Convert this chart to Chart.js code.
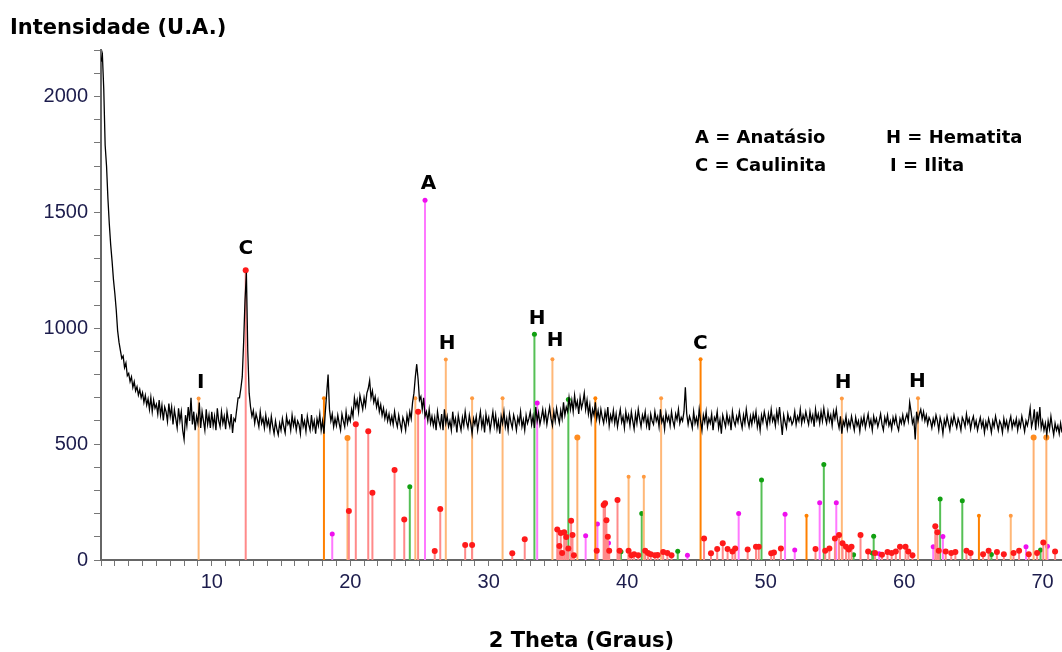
<!DOCTYPE html>
<html>
<head>
<meta charset="utf-8">
<script src="https://cdn.jsdelivr.net/npm/chart.js@4.4.0/dist/chart.umd.min.js"></script>
<style>
  html, body { margin: 0; padding: 0; background: #fff; }
  #wrap { width: 1062px; height: 652px; position: relative; }
</style>
</head>
<body>
<div id="wrap"><canvas id="xrd" width="1062" height="652"></canvas></div>
<script>
// measured pattern, read every 0.1 degree starting at 2.0
const thetaStart = 2.0;
const thetaStep = 0.1;
const intensity = [
  2150, 2180, 2030, 1790, 1700, 1560, 1450, 1360, 1290, 1210,
  1150, 1080, 990, 940, 905, 870, 880, 830, 850, 795,
  805, 770, 790, 745, 770, 730, 748, 712, 735, 700,
  722, 680, 710, 668, 695, 650, 702, 640, 690, 655,
  672, 630, 690, 625, 668, 602, 660, 640, 598, 675,
  620, 660, 585, 648, 610, 570, 655, 600, 640, 560,
  520, 625, 580, 660, 600, 700, 585, 640, 560, 620,
  590, 680, 570, 640, 600, 560, 650, 585, 625, 570,
  640, 580, 620, 560, 655, 600, 575, 640, 590, 620,
  565, 640, 600, 575, 630, 548, 610, 600, 650, 700,
  700, 740, 790, 940, 1120, 1240, 900, 720, 660, 620,
  645, 590, 630, 605, 575, 640, 590, 612, 570, 625,
  580, 605, 560, 620, 578, 545, 600, 565, 540, 590,
  560, 610, 575, 548, 620, 585, 600, 560, 625, 580,
  610, 560, 600, 585, 545, 630, 575, 600, 555, 620,
  585, 560, 625, 570, 600, 545, 610, 580, 630, 560,
  600, 545, 640, 720, 800, 650, 600, 630, 575, 610,
  580, 625, 590, 560, 630, 600, 575, 640, 590, 620,
  600, 650, 620, 700, 660, 690, 640, 710, 680, 650,
  700, 665, 720, 740, 775, 700, 730, 680, 705, 660,
  690, 640, 670, 625, 655, 610, 640, 600, 630, 590,
  620, 585, 640, 600, 575, 625, 590, 560, 615, 595,
  560, 625, 590, 640, 610, 680, 720, 790, 845, 780,
  690, 705, 650, 700, 620, 640, 600, 650, 590, 620,
  580, 615, 560, 640, 600, 575, 630, 560, 650, 590,
  620, 575, 600, 560, 640, 585, 610, 550, 625, 590,
  560, 615, 580, 640, 595, 570, 625, 590, 545, 610,
  585, 620, 560, 600, 640, 575, 610, 550, 630, 590,
  615, 560, 600, 640, 580, 625, 565, 600, 545, 620,
  590, 640, 575, 610, 560, 630, 595, 570, 625, 600,
  560, 615, 590, 640, 575, 605, 560, 625, 590, 610,
  640, 585, 620, 570, 660, 600, 635, 585, 615, 650,
  600, 640, 585, 625, 660, 610, 580, 640, 600, 655,
  620, 590, 645, 610, 680, 625, 660, 640, 700, 650,
  690, 640, 710, 660, 685, 630, 700, 655, 680, 720,
  650, 690, 630, 670, 600, 650, 625, 680, 610, 645,
  600, 650, 615, 590, 640, 605, 660, 580, 625, 600,
  645, 590, 630, 575, 615, 650, 595, 620, 570, 640,
  600, 625, 580, 640, 600, 565, 630, 590, 650, 610,
  575, 625, 600, 640, 580, 615, 560, 630, 600, 585,
  640, 600, 620, 575, 650, 595, 615, 565, 635, 600,
  620, 580, 640, 600, 575, 630, 605, 650, 590, 615,
  600, 640, 745, 630, 585, 620, 600, 570, 640, 590,
  615, 580, 650, 600, 560, 625, 595, 640, 575, 610,
  590, 630, 560, 615, 600, 640, 570, 605, 545, 625,
  600, 575, 630, 590, 615, 560, 640, 600, 580, 620,
  595, 640, 600, 570, 625, 590, 650, 605, 575, 620,
  585, 630, 600, 640, 575, 610, 560, 625, 595, 640,
  610, 575, 630, 595, 650, 600, 620, 580, 640, 600,
  660, 600, 540, 625, 595, 570, 630, 600, 615, 585,
  600, 640, 585, 620, 600, 650, 590, 625, 600, 640,
  610, 585, 640, 600, 625, 575, 650, 605, 630, 590,
  640, 600, 655, 615, 590, 640, 600, 625, 580, 640,
  610, 650, 600, 570, 620, 545, 600, 580, 620, 565,
  600, 575, 620, 590, 560, 615, 580, 600, 555, 610,
  585, 620, 570, 600, 630, 580, 605, 560, 620, 590,
  610, 575, 600, 630, 585, 560, 615, 590, 625, 580,
  600, 565, 615, 590, 620, 580, 560, 610, 590, 625,
  585, 610, 630, 600, 680, 640, 590, 610, 520, 640,
  600, 630, 650, 610, 640, 600, 625, 585, 615, 600,
  570, 610, 585, 625, 600, 560, 615, 590, 545, 605,
  580, 620, 590, 560, 610, 585, 625, 595, 570, 610,
  590, 560, 615, 600, 575, 630, 590, 610, 565, 600,
  620, 575, 600, 560, 590, 615, 575, 600, 550, 595,
  570, 610, 585, 550, 600, 575, 620, 590, 560, 600,
  585, 550, 610, 575, 600, 560, 595, 620, 570, 600,
  580, 610, 560, 600, 575, 620, 590, 555, 600, 580,
  610, 655, 575, 600, 650, 560, 640, 590, 660, 570,
  600, 560, 590, 540, 600, 565, 620, 575, 540, 590,
  560, 580, 545, 590, 550
];

// reference sticks (2 theta, intensity)
const kaoliniteTheta = [12.45, 19.9, 20.4, 21.3, 21.6, 23.2, 23.9, 24.9, 26.1, 26.5, 28.3, 28.8, 31.7, 32.6,
  34.95, 35.1, 35.2, 35.3, 35.45, 35.6, 35.75, 35.95, 36.05, 36.15, 37.8, 38.3, 38.4, 38.5, 38.6, 38.7,
  39.3, 39.45, 40.1, 40.3, 40.5, 40.8, 41.3, 41.5, 41.7, 42.0, 42.2, 42.6, 42.9, 43.2, 45.55, 46.05,
  46.5, 46.9, 47.25, 47.6, 47.8, 48.7, 49.3, 49.5, 50.4, 50.6, 51.1, 53.6, 54.3, 54.6, 55.0, 55.3,
  55.55, 55.8, 56.0, 56.2, 56.85, 57.4, 57.9, 58.4, 58.8, 59.1, 59.4, 59.7, 60.1, 60.3, 60.6, 62.25,
  62.4, 62.5, 63.0, 63.4, 63.7, 64.5, 64.8, 65.7, 66.1, 66.7, 67.2, 67.9, 68.3, 69.0, 69.6, 70.05, 70.9];
const kaoliniteInt = [1250, 211, 586, 556, 290, 388, 175, 640, 39, 220, 65, 65, 29, 90,
  132, 60, 116, 30, 120, 99, 50, 169, 108, 20, 40, 237, 245, 172, 100, 40,
  259, 40, 40, 20, 25, 20, 40, 30, 25, 20, 22, 35, 30, 20, 93, 29,
  47, 72, 47, 37, 50, 45, 57, 57, 29, 32, 50, 47, 40, 50, 93, 108,
  72, 57, 45, 57, 108, 37, 30, 23, 35, 30, 37, 57, 57, 37, 20, 146,
  120, 40, 37, 30, 35, 40, 30, 25, 40, 35, 25, 30, 40, 25, 30, 76, 37];

const illiteTheta = [9.05, 24.7, 26.9, 28.8, 31.0, 34.6, 40.1, 41.2, 42.45, 55.5, 61.0, 67.7];
const illiteInt = [697, 698, 865, 698, 698, 866, 359, 359, 698, 697, 698, 191];

const muscoviteTheta = [19.8, 36.4, 69.35, 70.27];
const muscoviteInt = [527, 529, 529, 529];

const quartzTheta = [18.1, 37.7, 45.3, 52.95, 65.4];
const quartzInt = [698, 698, 866, 191, 191];

const anataseTheta = [18.7, 25.4, 33.5, 37.0, 37.85, 38.65, 44.35, 48.05, 51.4, 52.1, 53.9, 55.1, 58.2, 62.1, 62.8, 68.8, 70.35];
const anataseInt = [112, 1552, 677, 105, 155, 73, 21, 201, 197, 43, 247, 247, 27, 57, 101, 57, 59];

const hematiteTheta = [24.3, 33.3, 35.75, 39.55, 41.05, 43.65, 49.7, 54.2, 56.35, 57.7, 57.8, 62.6, 64.2, 66.3, 69.85];
const hematiteInt = [316, 974, 693, 36, 201, 38, 345, 412, 23, 30, 103, 263, 256, 24, 43];

// phase letters above peaks
const peakText = ["I", "C", "A", "H", "H", "H", "C", "H", "H"];
const peakTheta = [9.2, 12.46, 25.65, 27.0, 33.5, 34.8, 45.28, 55.6, 60.96];
const peakInt = [763, 1345, 1625, 935, 1043, 948, 935, 763, 767];

const phaseKey = [["A = Anatásio", "H = Hematita"], ["C = Caulinita", "I = Ilita"]];

const xMin = 2, xMax = 71.4, yMin = 0, yMax = 2200;

function stickData(thetas, values) {
  const out = [];
  thetas.forEach((t, i) => {
    out.push({ x: t, y: 0 }, { x: t, y: values[i] }, { x: t, y: null });
  });
  return out;
}

function stickSet(thetas, values, line, dot, r) {
  return {
    data: stickData(thetas, values),
    borderColor: line,
    borderWidth: 2,
    backgroundColor: dot,
    pointBackgroundColor: dot,
    pointBorderWidth: 0,
    pointRadius: ctx => (ctx.index % 3 === 1 ? r : 0),
    spanGaps: false,
    order: 2
  };
}

const patternData = intensity.map((v, i) => ({ x: +(thetaStart + i * thetaStep).toFixed(1), y: v }));

const labelPlugin = {
  id: "labels",
  afterDatasetsDraw(chart) {
    const { ctx } = chart;
    const x = chart.scales.x, y = chart.scales.y;
    ctx.save();
    ctx.fillStyle = "#000";
    ctx.font = "bold 20px 'DejaVu Sans'";
    ctx.textAlign = "center";
    ctx.textBaseline = "middle";
    peakText.forEach((t, i) => {
      ctx.fillText(t, x.getPixelForValue(peakTheta[i]), y.getPixelForValue(peakInt[i]));
    });
    ctx.font = "bold 18px 'DejaVu Sans'";
    ctx.textAlign = "left";
    ctx.fillText(phaseKey[0][0], 695, 138);
    ctx.fillText(phaseKey[0][1], 886, 138);
    ctx.fillText(phaseKey[1][0], 695, 166);
    ctx.fillText(phaseKey[1][1], 890, 166);
    ctx.restore();
  }
};

const tickFont = { family: "'Liberation Sans', Arial, sans-serif", size: 20 };

new Chart(document.getElementById("xrd"), {
  type: "line",
  data: {
    datasets: [
      {
        data: patternData,
        borderColor: "#000",
        borderWidth: 1.3,
        pointRadius: 0,
        tension: 0,
        order: 0
      },
      stickSet(kaoliniteTheta, kaoliniteInt, "#ff8a8a", "#ff1a1a", 3),
      stickSet(illiteTheta, illiteInt, "#ffb878", "#ff9a40", 2),
      stickSet(muscoviteTheta, muscoviteInt, "#ffb070", "#ff8c20", 3),
      stickSet(quartzTheta, quartzInt, "#ff8000", "#ff8000", 2),
      stickSet(anataseTheta, anataseInt, "#ff78ff", "#ee10ee", 2.5),
      stickSet(hematiteTheta, hematiteInt, "#55c055", "#12a012", 2.5)
    ]
  },
  options: {
    responsive: false,
    animation: false,
    devicePixelRatio: 1,
    layout: { padding: { left: 10, right: 0, top: 0, bottom: 0 } },
    plugins: {
      legend: { display: false },
      tooltip: { enabled: false },
      title: {
        display: true,
        text: "Intensidade (U.A.)",
        align: "start",
        color: "#000",
        font: { family: "'DejaVu Sans'", weight: "bold", size: 21, lineHeight: 1.2 },
        padding: { top: 16, bottom: 9 }
      }
    },
    scales: {
      x: {
        type: "linear",
        min: xMin,
        max: xMax,
        afterBuildTicks: s => { s.ticks = s.ticks.filter(t => Number.isInteger(t.value)); },
        afterFit: s => { s.height = 92; },
        grid: { drawOnChartArea: false, color: "#777", tickLength: 6, lineWidth: 1 },
        border: { color: "#666", width: 2 },
        ticks: {
          stepSize: 1,
          autoSkip: false,
          maxRotation: 0,
          padding: 4,
          color: "#1c1c4c",
          font: tickFont,
          callback: v => (Math.abs(v % 10) < 1e-6 ? v : "")
        },
        title: {
          display: true,
          text: "2 Theta (Graus)",
          color: "#000",
          font: { family: "'DejaVu Sans'", weight: "bold", size: 21, lineHeight: 1 },
          padding: { top: 0, bottom: 0 }
        }
      },
      y: {
        min: yMin,
        max: yMax,
        afterFit: s => { s.width = 91; },
        grid: { drawOnChartArea: false, color: "#777", tickLength: 7, lineWidth: 1 },
        border: { color: "#666", width: 2 },
        ticks: {
          stepSize: 100,
          autoSkip: false,
          padding: 6,
          color: "#1c1c4c",
          font: tickFont,
          callback: v => (Math.round(v) % 500 === 0 && v < 2100 ? v : "")
        }
      }
    }
  },
  plugins: [labelPlugin]
});
</script>
</body>
</html>
